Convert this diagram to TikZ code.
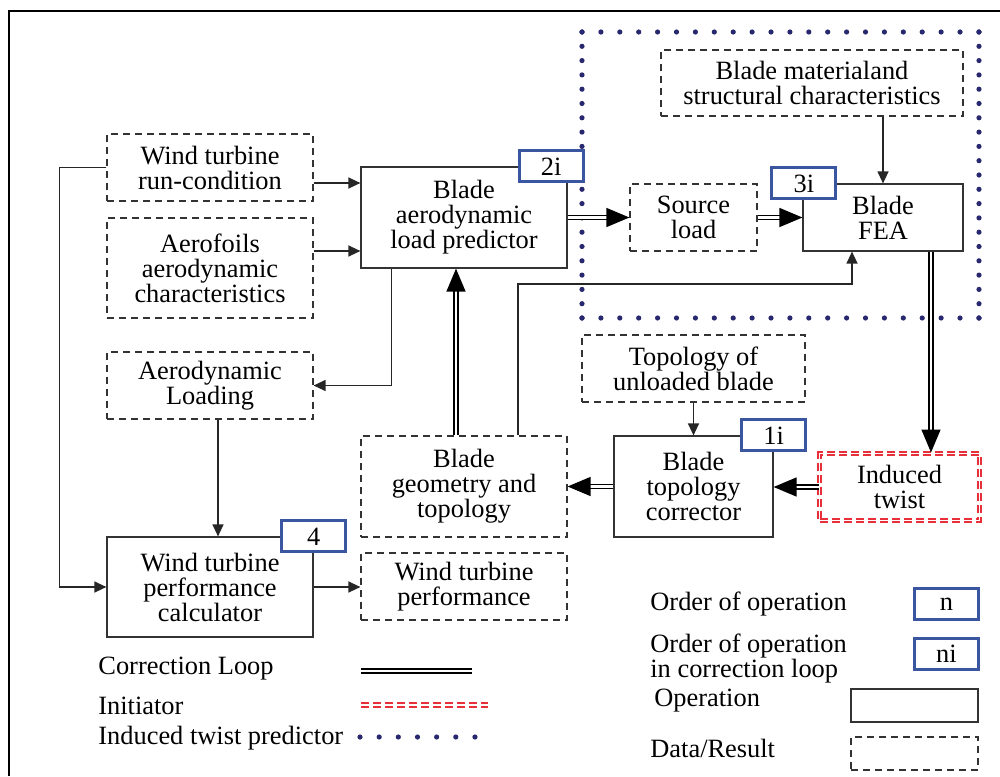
\documentclass[tikz,border=0pt]{standalone}
\usepackage{fontspec}
\setmainfont{Liberation Serif}
\usepackage{xcolor}
\usetikzlibrary{positioning, calc, arrows.meta}
\definecolor{badgeblue}{RGB}{58,86,160}
\definecolor{dotnavy}{RGB}{40,40,110}
\definecolor{initred}{RGB}{232,48,58}

\begin{document}
\begin{tikzpicture}[x=0.5pt,y=-0.5pt,
    font=\fontsize{13.2}{12.5}\selectfont,
    op/.style={draw=black!80, line width=0.6pt, align=center, inner sep=0pt},
    data/.style={op, dash pattern=on 3.5pt off 2.5pt},
    order/.style={draw=badgeblue, line width=1.5pt, fill=white, minimum width=32pt, minimum height=15.5pt, inner sep=0pt},
    flow/.style={draw=black!85, line width=0.65pt, -{Triangle[length=6pt,width=5.5pt]}},
    corr/.style={draw=black, line width=0.7pt, double, double distance=1.2pt, -{Triangle[length=11.5pt,width=9.5pt]}},
    init/.style={draw=initred, line width=1pt, double=white, double distance=0.8pt, dash pattern=on 4pt off 2pt},
    tdots/.style={draw=dotnavy, line width=2.6pt, line cap=round},
    legend/.style={anchor=west, inner sep=0pt, align=left}]
  \useasboundingbox (0,0) rectangle (1000,776);
  \draw[line width=1pt] (9,776) -- (9,11) -- (1000,11);%frame

  % induced twist predictor region
  \draw[tdots, dash pattern=on 0pt off 9.45pt] (582,32) -- (979,32);
  \draw[tdots, dash pattern=on 0pt off 9.45pt] (582,318) -- (979,318);
  \draw[tdots, dash pattern=on 0pt off 7.15pt] (582,32) -- (582,318);
  \draw[tdots, dash pattern=on 0pt off 7.15pt] (979,32) -- (979,318);

  \node[data, minimum width=103pt, minimum height=33.5pt] (run) at (210,167.5) {Wind turbine\\run-condition};
  \node[data, minimum width=103pt, minimum height=50pt] (aero) at (210,268) {Aerofoils\\aerodynamic\\characteristics};
  \node[op, minimum width=103pt, minimum height=50.5pt] (pred) at (464,217.5) {Blade\\aerodynamic\\load predictor};
  \node[data, minimum width=63.5pt, minimum height=33.5pt] (source) at (693.5,217.5) {Source\\load};
  \node[op, minimum width=80pt, minimum height=33.5pt] (fea) at (883,217.5) {Blade\\FEA};
  \node[data, minimum width=151pt, minimum height=33pt] (material) at (812,83) {Blade materialand\\structural characteristics};
  \node[data, minimum width=103pt, minimum height=33.5pt] (loading) at (210,385.5) {Aerodynamic\\Loading};
  \node[data, minimum width=103pt, minimum height=50.5pt] (geom) at (464,486.5) {Blade\\geometry and\\topology};
  \node[op, minimum width=103pt, minimum height=50pt] (calc) at (210,587) {Wind turbine\\performance\\calculator};
  \node[data, minimum width=103pt, minimum height=33.5pt] (perf) at (464,586.5) {Wind turbine\\performance};
  \node[data, minimum width=111.5pt, minimum height=33.5pt] (unloaded) at (693.5,368.5) {Topology of\\unloaded blade};
  \node[op, minimum width=79.5pt, minimum height=50.5pt] (corrector) at (693.5,486.5) {Blade\\topology\\corrector};
  \node[init, align=center, inner sep=0pt, minimum width=80pt, minimum height=33.5pt] (twist) at (899.5,487) {Induced\\twist};

  % data flow
  \draw[flow] (run.west) -- ++(-47,0) |- (calc.west);
  \draw[flow] (run.east |- 0,183) -- (pred.west |- 0,183);
  \draw[flow] (aero.east |- 0,251) -- (pred.west |- 0,251);
  \draw[flow] ([xshift=15.5pt]pred.south west) |- (loading.east);
  \draw[flow] (loading.south -| 218,0) -- (calc.north -| 218,0);
  \draw[flow] (calc.east) -- (perf.west |- calc.east);
  \draw[flow] (geom.north -| 518,0) |- (852,284) -- (fea.south -| 852,0);
  \draw[flow] (material.south -| fea.north) -- (fea.north);
  \draw[flow] (unloaded.south) -- (corrector.north);

  % correction loop
  \draw[corr] (geom.north -| 456,0) -- (pred.south -| 456,0);
  \draw[corr] (pred.east) -- (source.west);
  \draw[corr] (source.east) -- (fea.west);
  \draw[corr] (fea.south -| 931,0) -- (twist.north -| 931,0);
  \draw[corr] (twist.west) -- (corrector.east |- twist.west);
  \draw[corr] (corrector.west) -- (geom.east);

  % order of operation
  \node[order] (o2) at ([xshift=-8.25pt]pred.north east) {2i};
  \node[order] (o3) at ([xshift=0.75pt]fea.north west) {3i};
  \node[order] (o4) at (calc.north east) {4};
  \node[order] (o1) at (corrector.north east) {1i};

  % legend
  \node[legend] (lcorr) at (98,669) {Correction Loop};
  \draw[corr, -] (361,671) -- (472,671);
  \node[legend] (linit) at (98,706) {Initiator};
  \draw[init] (361,705) -- (488,705);
  \node[legend] (ltwist) at (98,738) {Induced twist predictor};
  \draw[tdots, dash pattern=on 0pt off 9.58pt] (360,737) -- (475,737);
  \node[legend] (lorder) at (650,604) {Order of operation};
  \node[order] (ln) at (946.5,604) {n};
  \node[legend] (lorderi) at (650,658.5) {Order of operation\\in correction loop};
  \node[order] (lni) at (946.5,654) {ni};
  \node[legend] (lop) at (654,701) {Operation};
  \node[op, minimum width=63.5pt, minimum height=16.5pt] (lopbox) at (914.5,705.5) {};
  \node[legend] (ldata) at (650,748) {Data/Result};
  \node[data, minimum width=63.5pt, minimum height=16.5pt] (ldatabox) at (914.5,753.5) {};
\end{tikzpicture}
\end{document}
